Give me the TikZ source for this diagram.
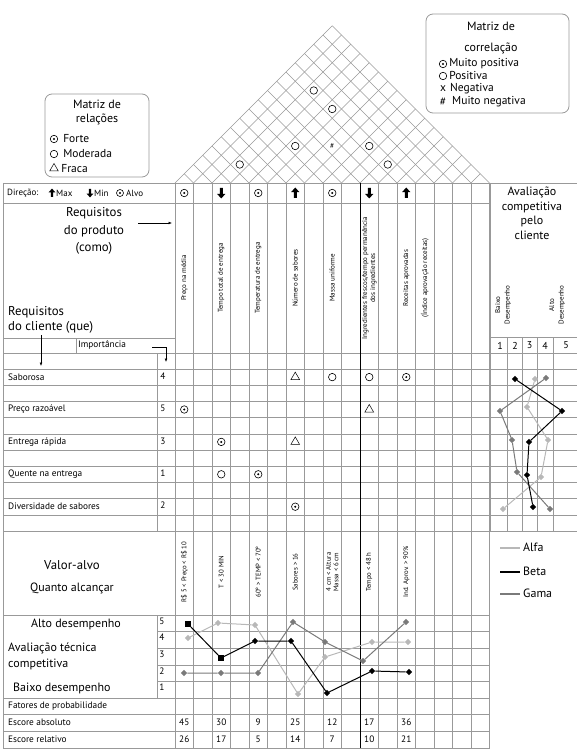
\documentclass[tikz,border=0pt]{standalone}
\usepackage{fontspec}
\setmainfont{PT Sans}
\usetikzlibrary{arrows.meta,positioning,shapes.geometric}

\definecolor{grade}{gray}{0.6}
\definecolor{alfa}{gray}{0.72}
\definecolor{gama}{gray}{0.48}

\tikzstyle{grid-line}=[draw=grade,line width=0.6pt]
\tikzstyle{roof-line}=[draw=grade,line width=0.5pt]
\tikzstyle{dark-line}=[draw=black,line width=0.7pt]
\tikzstyle{legend-box}=[draw=grade,rounded corners=7pt,line width=0.8pt]
\tikzstyle{forte}=[circle,draw,line width=0.6pt,minimum size=7.5pt,inner sep=0pt,path picture={\fill (path picture bounding box.center) circle (1.1pt);}]
\tikzstyle{moderada}=[circle,draw,line width=0.6pt,minimum size=7.5pt,inner sep=0pt]
\tikzstyle{fraca}=[regular polygon,regular polygon sides=3,draw,line width=0.5pt,minimum size=10pt,inner sep=0pt]
\tikzstyle{small-text}=[font=\fontsize{9.3}{10}\selectfont,inner sep=0pt]
\tikzstyle{dir-text}=[font=\fontsize{9}{10}\selectfont,inner sep=0pt]
\tikzstyle{col-text}=[font=\fontsize{7}{8}\selectfont,inner sep=0pt,rotate=90,align=center]
\tikzstyle{big-text}=[font=\fontsize{12}{17}\selectfont,inner sep=0pt,align=center]
\tikzstyle{box-text}=[font=\fontsize{11.5}{14}\selectfont,inner sep=0pt]
\tikzstyle{alfa-mark}=[diamond,fill=alfa,inner sep=0pt,minimum size=6.5pt]
\tikzstyle{beta-mark}=[diamond,fill=black,inner sep=0pt,minimum size=6.5pt]
\tikzstyle{beta-square}=[rectangle,fill=black,inner sep=0pt,minimum size=5.5pt]
\tikzstyle{gama-mark}=[diamond,fill=gama,inner sep=0pt,minimum size=6.5pt]
\tikzstyle{alfa-line}=[draw=alfa,line width=1pt]
\tikzstyle{beta-line}=[draw=black,line width=1pt]
\tikzstyle{gama-line}=[draw=gama,line width=1pt]
\tikzstyle{thin-arrow}=[draw=black,line width=0.5pt,-{Latex[length=3.5pt,width=2.8pt]}]

\tikzset{
  max-dir/.pic={\fill (0,-5.5) -- (4.2,-0.8) -- (1.5,-0.8) -- (1.5,5) -- (-1.5,5) -- (-1.5,-0.8) -- (-4.2,-0.8) -- cycle;},
  min-dir/.pic={\fill (0,5.5) -- (4.2,0.8) -- (1.5,0.8) -- (1.5,-5) -- (-1.5,-5) -- (-1.5,0.8) -- (-4.2,0.8) -- cycle;}
}

\begin{document}
\begin{tikzpicture}[x=1pt,y=-1pt]
	\useasboundingbox (0,0) rectangle (577,751);

	% legendas de cima
	\begin{scope}
	\draw[legend-box] (45,94) rectangle (149,177);
	\node (rel-title)[box-text,align=center,font=\fontsize{12}{14}\selectfont] at (97,113) {Matriz de\\relações};
	\node (leg-forte)[forte] at (54,139) {};
	\node (leg-forte-t)[box-text,right=5pt of leg-forte] {Forte};
	\node (leg-mod)[moderada] at (54,154) {};
	\node (leg-mod-t)[box-text,right=5pt of leg-mod] {Moderada};
	\node (leg-fraca)[fraca] at (54,168.5) {};
	\node (leg-fraca-t)[box-text,right=4pt of leg-fraca] {Fraca};

	\draw[legend-box] (426,14) rectangle (569,113);
	\node (cor-title1)[box-text,font=\fontsize{12}{14}\selectfont] at (491,26) {Matriz de};
	\node (cor-title2)[box-text,font=\fontsize{12}{14}\selectfont] at (491,48) {correlação};
	\node (leg-mpos)[forte] at (443,64) {};
	\node (leg-mpos-t)[box-text,right=2pt of leg-mpos] {Muito positiva};
	\node (leg-pos)[moderada] at (443,76) {};
	\node (leg-pos-t)[box-text,right=2pt of leg-pos] {Positiva};
	\node (leg-neg)[box-text] at (443,89) {x};
	\node (leg-neg-t)[box-text,anchor=west] at (450,89) {Negativa};
	\node (leg-mneg)[box-text] at (443,102) {\#};
	\node (leg-mneg-t)[box-text,anchor=west] at (452,102) {Muito negativa};
	\end{scope}

	% telhado
	\foreach \k in {0,...,17} {
		\draw[roof-line] ({175+18.5*\k},183) -- ({(175+18.5*\k+489.5)/2},{183-(489.5-175-18.5*\k)/2});
		\draw[roof-line] ({175+18.5*\k},183) -- ({(350+18.5*\k)/2},{183-(18.5*\k)/2});
	}
	\foreach \i/\j/\s in {2/4/forte, 4/8/moderada, 8/12/forte, 10/12/forte, 2/12/moderada, 4/12/forte}
		\node (cor-\i-\j)[\s,fill=white] at ({175+18.5*(\i+\j+1)/2},{183-18.5*(\j-\i)/2}) {};
	\node (cor-6-10)[font=\fontsize{7.5}{8}\selectfont,inner sep=0pt] at ({175+18.5*8.5},146) {\#};

	% grade da matriz
	\begin{scope}
	\draw[grid-line] (3,183) -- (577,183);
	\draw[grid-line] (3,203) -- (489.5,203);
	\draw[grid-line] (3,338) -- (175,338);
	\draw[grid-line] (489.5,337) -- (577,337);
	\draw[grid-line] (3,353) -- (577,353);
	\foreach \k in {0,...,10}
		\draw[grid-line] (3,{369+16.2*\k}) -- (577,{369+16.2*\k});
	\draw[grid-line] (3,615) -- (489.5,615);
	\foreach \y in {631.6,648.2,664.8,681.4}
		\draw[grid-line] (157,\y) -- (489.5,\y);
	\foreach \y in {698,714,731,748}
		\draw[grid-line] (3,\y) -- (489.5,\y);
	\draw[grid-line] (3,183) -- (3,748);
	\foreach \k in {0,...,17}
		\draw[grid-line] ({175+18.5*\k},183) -- ({175+18.5*\k},748);
	\draw[dark-line] (360,183) -- (360,748);
	\draw[grid-line] (76,338) -- (76,353);
	\draw[grid-line] (157,353) -- (157,531);
	\draw[grid-line] (157,615) -- (157,698);
	\draw[grid-line,line width=2pt] (490,183) -- (490,531);
	\foreach \x in {507,522,537,553}
		\draw[grid-line] (\x,337) -- (\x,531);
	\end{scope}

	% linha de direcao
	\node (dir-lbl)[dir-text,anchor=west] at (7,193) {Direção:};
	\pic[scale=0.8] (dir-max) at (52,193) {max-dir};
	\node (dir-max-t)[dir-text,anchor=west] at (56,193) {Max};
	\pic[scale=0.8] (dir-min) at (90,193) {min-dir};
	\node (dir-min-t)[dir-text,anchor=west] at (94,193) {Min};
	\node (dir-alvo)[forte,minimum size=7pt] at (120,193) {};
	\node (dir-alvo-t)[dir-text,anchor=west] at (126,193) {Alvo};
	\foreach \c in {0,4,8}
		\node (dir-\c)[forte] at ({175+18.5*(\c+0.5)},193) {};
	\foreach \c in {2,10}
		\pic (dir-\c) at ({175+18.5*(\c+0.5)},193) {min-dir};
	\foreach \c in {6,12}
		\pic (dir-\c) at ({175+18.5*(\c+0.5)},193) {max-dir};

	% requisitos do produto
	\node (prod)[big-text,font=\fontsize{12.8}{17.5}\selectfont] at (94,231) {Requisitos\\do produto\\(como)};
	\coordinate (prod-a) at (138,223);
	\coordinate (prod-b) at (172,223);
	\draw[thin-arrow] (prod-a) -- (prod-b);
	\node (cli)[big-text,align=left,anchor=west,font=\fontsize{12.8}{15}\selectfont] at (8,320) {Requisitos\\do cliente (que)};
	\coordinate (cli-a) at (41,335);
	\coordinate (cli-b) at (41,366);
	\draw[thin-arrow] (cli-a) -- (cli-b);
	\node (imp)[small-text,anchor=west] at (78,345.5) {Importância};
	\coordinate (imp-a) at (152,347);
	\coordinate (imp-b) at (166,362);
	\draw[thin-arrow] (imp-a) -| (imp-b);

	\foreach \c/\txt in {0/Preço na média, 2/Tempo total de entrega, 4/Temperatura de entrega, 6/Número de sabores, 8/Massa uniforme, 10/{Ingredientes frescos/tempo permanência\\dos ingredientes}, 12/Receitas aprovadas, 13/(Índice aprovação receitas)}
		\node (col-\c)[col-text] at ({175+18.5*(\c+0.5)},278) {\txt};

	% avaliacao competitiva pelo cliente
	\node (aval-cli)[box-text,align=center,anchor=north,font=\fontsize{12}{14.5}\selectfont] at (532,187) {Avaliação\\competitiva\\pelo\\cliente};
	\node (baixo)[col-text,font=\fontsize{7}{9.5}\selectfont] at (503,305) {Baixo\\Desempenho};
	\node (alto)[col-text,font=\fontsize{7}{9.5}\selectfont] at (557,305) {Alto\\Desempenho};
	\foreach \v/\x in {1/500,2/515,3/529.5,4/545,5/566}
		\node (esc-\v)[small-text,font=\fontsize{10}{11}\selectfont] at (\x,345.5) {\v};

	% requisitos do cliente
	\foreach \k/\txt/\imp in {0/Saborosa/4, 2/Preço razoável/5, 4/Entrega rápida/3, 6/Quente na entrega/1, 8/Diversidade de sabores/2} {
		\node (req-\k)[small-text,anchor=west] at (8,{377.1+16.2*\k}) {\txt};
		\node (imp-\k)[small-text] at (163,{376+16.2*\k}) {\imp};
	}

	% matriz de relacoes
	\foreach \s/\c/\k in {fraca/6/0, moderada/8/0, moderada/10/0, forte/12/0, forte/0/2, fraca/10/2, forte/2/4, fraca/6/4, moderada/2/6, forte/4/6, forte/6/8}
		\node (rel-\c-\k)[\s] at ({175+18.5*(\c+0.5)},{377.1+16.2*\k}) {};

	% grafico do cliente
	\foreach \n/\x/\y in {1/535/379, 2/527/407, 3/548/440, 4/541/477, 5/503/509}
		\node (ca\n)[alfa-mark] at (\x,\y) {};
	\foreach \n/\x/\y in {1/546/378, 2/500/411, 3/512/440, 4/517/472, 5/550/509}
		\node (cg\n)[gama-mark] at (\x,\y) {};
	\foreach \n/\x/\y in {1/515/379, 2/562/411, 3/529/442, 4/527/475, 5/533/507}
		\node (cb\n)[beta-mark] at (\x,\y) {};
	\draw[alfa-line] (ca1) -- (ca2) -- (ca3) -- (ca4) -- (ca5);
	\draw[gama-line] (cg1) -- (cg2) -- (cg3) -- (cg4) -- (cg5);
	\draw[beta-line] (cb1) -- (cb2) -- (cb3) -- (cb4) -- (cb5);

	% legenda alfa beta gama
	\coordinate (la-a) at (500,548);
	\coordinate (la-b) at (520,548);
	\coordinate (lb-a) at (500,572);
	\coordinate (lb-b) at (520,572);
	\coordinate (lg-a) at (500,594);
	\coordinate (lg-b) at (520,594);
	\draw[alfa-line,line width=2.2pt] (la-a) -- (la-b);
	\draw[beta-line,line width=2.2pt] (lb-a) -- (lb-b);
	\draw[gama-line,line width=2.2pt] (lg-a) -- (lg-b);
	\node (la-t)[box-text,anchor=west,font=\fontsize{12}{14}\selectfont] at (523,547) {Alfa};
	\node (lb-t)[box-text,anchor=west,font=\fontsize{12}{14}\selectfont] at (523,571) {Beta};
	\node (lg-t)[box-text,anchor=west,font=\fontsize{12}{14}\selectfont] at (523,593) {Gama};

	% valor-alvo
	\node (valor)[big-text,font=\fontsize{12.8}{15}\selectfont] at (72,565) {Valor-alvo};
	\node (quanto)[big-text] at (72,588) {Quanto alcançar};
	\foreach \c/\txt in {0/R\$ 5 < Preço < R\$ 10, 2/T < 30 MIN, 4/60º > TEMP < 70º, 6/Sabores > 16, 8/{4 cm < Altura\\Massa < 6 cm}, 10/Tempo < 48 h, 12/Ind. Aprov. > 90\%}
		\node (alvo-\c)[col-text,font=\fontsize{6.8}{7.5}\selectfont] at ({175+18.5*(\c+0.5)},572) {\txt};

	% avaliacao tecnica
	\node (alto-des)[big-text] at (76,624) {Alto desempenho};
	\node (aval-tec)[big-text,align=left,anchor=west,font=\fontsize{12}{16}\selectfont] at (8,656) {Avaliação técnica\\competitiva};
	\node (baixo-des)[big-text,anchor=west] at (13,688) {Baixo desempenho};
	\foreach \n/\y in {5/621,4/637.6,3/654.2,2/670.8,1/687.4}
		\node (nivel-\n)[small-text] at (162,\y) {\n};

	\foreach \n/\x/\y in {0/188/638, 2/218/623, 4/255/625, 6/298/694, 8/325/657, 10/372/642, 12/408/642}
		\node (ta\n)[alfa-mark] at (\x,\y) {};
	\foreach \n/\x/\y in {0/184/673, 2/221/673, 4/258/673, 6/293/622, 8/325/642, 10/363/661, 12/406/622}
		\node (tg\n)[gama-mark] at (\x,\y) {};
	\node (tb0)[beta-square] at (188,624) {};
	\node (tb2)[beta-square] at (221,658) {};
	\foreach \n/\x/\y in {4/255/641, 6/291/641, 8/327/693, 10/372/671, 12/409/672}
		\node (tb\n)[beta-mark] at (\x,\y) {};
	\draw[alfa-line] (ta0) -- (ta2) -- (ta4) -- (ta6) -- (ta8) -- (ta10) -- (ta12);
	\draw[gama-line] (tg0) -- (tg2) -- (tg4) -- (tg6) -- (tg8) -- (tg10) -- (tg12);
	\draw[beta-line] (tb0) -- (tb2) -- (tb4) -- (tb6) -- (tb8) -- (tb10) -- (tb12);

	% escores
	\node (fatores)[small-text,anchor=west] at (8,706) {Fatores de probabilidade};
	\node (abs)[small-text,anchor=west] at (8,722.5) {Escore absoluto};
	\node (rel)[small-text,anchor=west] at (8,739.5) {Escore relativo};
	\foreach \c/\a/\r in {0/45/26, 2/30/17, 4/9/5, 6/25/14, 8/12/7, 10/17/10, 12/36/21} {
		\node (abs-\c)[small-text] at ({175+18.5*(\c+0.5)},722.5) {\a};
		\node (rel-\c)[small-text] at ({175+18.5*(\c+0.5)},739.5) {\r};
	}
\end{tikzpicture}
\end{document}
